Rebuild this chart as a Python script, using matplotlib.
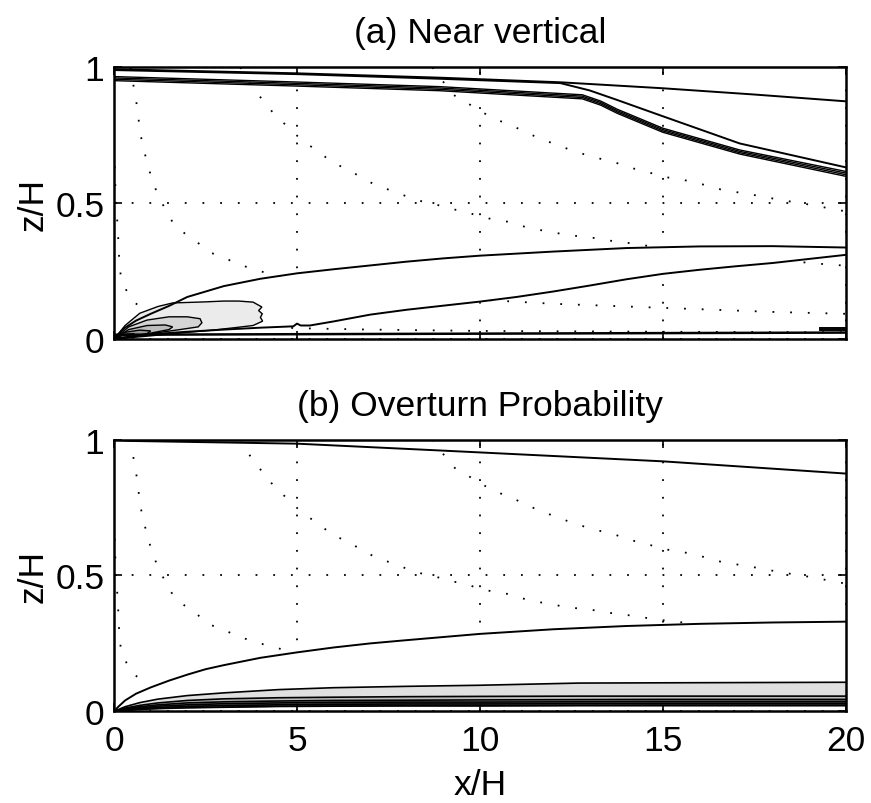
"""
Near-vertical vs overturn probability contours (two stacked panels)
"""
import numpy as np
import matplotlib
matplotlib.use("Agg")
import matplotlib.pyplot as plt

plt.rcParams['font.family'] = ['Liberation Sans', 'DejaVu Sans']

# ---- dotted guide curves (same family in both panels) ----
curve_a_x = [0.45, 0.52, 0.6, 0.66, 0.71, 0.8, 0.9, 1.03, 1.17, 1.37, 1.6, 1.92, 2.24, 2.6, 3.0, 3.4, 3.83, 4.24, 5.0, 6.5, 8.0, 10.0, 12.0, 14.0, 16.0, 18.0, 20.0]
curve_a_z = [1.0, 0.94, 0.88, 0.82, 0.76, 0.705, 0.65, 0.59, 0.54, 0.485, 0.43, 0.39, 0.36, 0.32, 0.30, 0.275, 0.257, 0.24, 0.215, 0.185, 0.165, 0.145, 0.13, 0.12, 0.11, 0.10, 0.093]
curve_b_x = [3.45, 3.74, 4.0, 4.3, 4.6, 4.9, 5.25, 5.6, 5.95, 6.3, 6.7, 7.1, 7.5, 7.9, 8.3, 8.7, 9.15, 9.6, 10.0, 10.4, 10.85, 11.3, 11.7, 12.1, 12.6, 13.0, 13.4, 13.85, 14.3, 14.7, 16.0, 17.5, 18.6, 19.0, 19.5, 20.0]
curve_b_z = [1.0, 0.935, 0.89, 0.84, 0.80, 0.76, 0.72, 0.69, 0.65, 0.63, 0.60, 0.57, 0.55, 0.53, 0.51, 0.50, 0.48, 0.47, 0.45, 0.44, 0.43, 0.41, 0.40, 0.39, 0.38, 0.375, 0.365, 0.357, 0.35, 0.34, 0.32, 0.30, 0.287, 0.28, 0.275, 0.27]
curve_c_x = [8.7, 9.26, 9.64, 10.0, 10.4, 10.8, 11.2, 11.6, 12.0, 12.4, 12.85, 13.25, 13.7, 14.1, 14.5, 14.9, 15.35, 15.8, 16.2, 16.6, 17.05, 17.5, 17.9, 18.3, 18.8, 19.2, 19.6, 20.0]
curve_c_z = [1.0, 0.90, 0.87, 0.84, 0.81, 0.79, 0.765, 0.74, 0.72, 0.70, 0.68, 0.665, 0.65, 0.63, 0.62, 0.60, 0.59, 0.58, 0.565, 0.55, 0.54, 0.53, 0.52, 0.51, 0.50, 0.49, 0.48, 0.47]
curve_d_x = [0.0, 0.05, 0.1, 0.14, 0.18, 0.28, 0.46, 0.8, 1.5, 3.0, 5.0, 7.0, 10.0, 15.0, 20.0]
curve_d_z = [0.70, 0.50, 0.41, 0.29, 0.235, 0.195, 0.145, 0.11, 0.08, 0.055, 0.04, 0.035, 0.03, 0.027, 0.025]

# ---- panel (a): near vertical ----
a_top1_x = [0.0, 5.0, 8.9, 12.2, 15.0, 17.5, 20.0]
a_top1_z = [0.993, 0.978, 0.962, 0.945, 0.923, 0.90, 0.875]
a_top2_x = [0.0, 5.0, 8.9, 12.2, 13.0, 13.75, 15.0, 17.1, 20.0]
a_top2_z = [0.99, 0.975, 0.958, 0.942, 0.915, 0.88, 0.82, 0.72, 0.632]
a_bundle_x = [0.0, 5.0, 8.9, 12.8, 13.3, 13.75, 15.0, 17.1, 20.0]
a_bundle_z = [[0.966, 0.946, 0.929, 0.899, 0.876, 0.846, 0.776, 0.696, 0.617],
              [0.961, 0.941, 0.924, 0.894, 0.871, 0.841, 0.771, 0.691, 0.611],
              [0.956, 0.936, 0.919, 0.889, 0.866, 0.836, 0.766, 0.686, 0.605],
              [0.951, 0.931, 0.914, 0.884, 0.861, 0.831, 0.761, 0.681, 0.599]]
a_l1_x = [0.0, 0.1, 0.3, 0.6, 1.0, 1.5, 2.0, 2.5, 3.0, 4.0, 5.0, 6.0, 7.0, 8.0, 9.0, 10.0, 12.0, 14.0, 16.0, 18.0, 20.0]
a_l1_z = [0.0, 0.016, 0.042, 0.068, 0.093, 0.122, 0.155, 0.175, 0.195, 0.222, 0.242, 0.257, 0.271, 0.285, 0.297, 0.307, 0.322, 0.335, 0.341, 0.342, 0.337]
a_l2_x = [0.0, 1.0, 2.0, 3.0, 4.0, 4.9, 5.0, 5.1, 5.35, 6.0, 7.0, 8.0, 9.0, 10.0, 11.0, 12.0, 13.0, 14.0, 15.0, 16.0, 17.0, 18.0, 19.0, 20.0]
a_l2_z = [0.0, 0.018, 0.027, 0.035, 0.042, 0.047, 0.057, 0.05, 0.05, 0.065, 0.09, 0.108, 0.123, 0.138, 0.155, 0.175, 0.197, 0.22, 0.24, 0.255, 0.268, 0.28, 0.295, 0.31]
a_floor_x = [0.0, 5.0, 10.0, 15.0, 20.0]
a_floor_z = [0.016, 0.018, 0.02, 0.022, 0.024]
a_stub_x = [19.3, 20.0]
a_stub_z = [[0.04, 0.04], [0.032, 0.032]]

# blob near the origin, outer level first
blob_x = [[0.0, 0.3, 0.7, 1.2, 1.6, 2.5, 3.0, 3.4, 3.8, 4.04, 3.95, 4.05, 4.0, 4.06, 3.8, 3.3, 2.7, 2.0, 1.0, 0.0],
          [0.0, 0.4, 0.9, 1.5, 2.0, 2.35, 2.4, 2.3, 1.8, 1.0, 0.0],
          [0.0, 0.4, 0.9, 1.4, 1.6, 1.5, 1.0, 0.0],
          [0.0, 0.3, 0.7, 1.0, 0.9, 0.0],
          [0.0, 0.3, 0.55, 0.5, 0.0]]
blob_z = [[0.0, 0.05, 0.095, 0.12, 0.133, 0.137, 0.14, 0.14, 0.136, 0.118, 0.105, 0.093, 0.08, 0.066, 0.05, 0.042, 0.033, 0.025, 0.012, 0.0],
          [0.0, 0.045, 0.07, 0.082, 0.082, 0.075, 0.06, 0.045, 0.035, 0.02, 0.0],
          [0.0, 0.035, 0.05, 0.052, 0.045, 0.035, 0.022, 0.0],
          [0.0, 0.025, 0.033, 0.03, 0.02, 0.0],
          [0.0, 0.018, 0.02, 0.012, 0.0]]
blob_grey = ['#ebebeb', '#d4d4d4', '#bcbcbc', '#999999', '#707070']

# ---- panel (b): overturn probability ----
b_top_x = [0.0, 0.45, 5.0, 8.9, 15.0, 20.0]
b_top_z = [1.0, 0.995, 0.985, 0.96, 0.92, 0.875]
b_l1_x = [0.0, 0.1, 0.3, 0.6, 1.0, 1.5, 2.0, 2.5, 3.0, 4.0, 5.0, 6.0, 7.0, 8.0, 10.0, 12.0, 14.0, 16.0, 18.0, 20.0]
b_l1_z = [0.0, 0.015, 0.04, 0.065, 0.088, 0.113, 0.135, 0.155, 0.17, 0.197, 0.217, 0.235, 0.25, 0.262, 0.285, 0.302, 0.314, 0.322, 0.327, 0.33]
band_x = [0.0, 0.3, 0.7, 1.2, 2.0, 3.0, 4.5, 6.0, 8.0, 10.0, 12.7, 15.0, 20.0]
band_z = [[0.0, 0.017, 0.032, 0.045, 0.058, 0.068, 0.08, 0.087, 0.092, 0.096, 0.104, 0.105, 0.107],
          [0.0, 0.012, 0.022, 0.031, 0.04, 0.046, 0.05, 0.052, 0.054, 0.055, 0.056, 0.056, 0.056],
          [0.0, 0.009, 0.017, 0.024, 0.031, 0.035, 0.038, 0.04, 0.041, 0.042, 0.043, 0.044, 0.044],
          [0.0, 0.007, 0.013, 0.019, 0.024, 0.028, 0.031, 0.033, 0.034, 0.034, 0.035, 0.036, 0.036],
          [0.0, 0.005, 0.01, 0.014, 0.018, 0.021, 0.024, 0.026, 0.027, 0.027, 0.028, 0.029, 0.029],
          [0.0, 0.004, 0.007, 0.01, 0.013, 0.015, 0.018, 0.019, 0.02, 0.02, 0.021, 0.021, 0.021]]
band_grey = ['#e0e0e0', '#bdbdbd', '#8a8a8a', '#555555', '#2a2a2a']

DOTS = (0, (1, 8.8))
LW = 1.4
FS = 25.5


def style_axes(ax):
    ax.set_xlim(0, 20)
    ax.set_ylim(0, 1)
    ax.set_xticks([0, 5, 10, 15, 20])
    ax.set_yticks([0, 0.5, 1])
    ax.set_yticklabels(['0', '0.5', '1'])
    ax.tick_params(direction='in', length=6, width=1.2, top=True, right=True,
                   labelsize=FS)
    ax.tick_params(axis='x', pad=9)
    ax.tick_params(axis='y', pad=7)
    ax.grid(True, color='k', linestyle=DOTS, linewidth=1.3)
    for s in ax.spines.values():
        s.set_linewidth(1.8)
    ax.set_ylabel('z/H', fontsize=FS, labelpad=4)


def dotted(ax, x, z):
    ax.plot(x, z, color='k', linestyle=DOTS, linewidth=1.3, zorder=1)


fig = plt.figure(figsize=(8.71, 8.04), dpi=100)
ax_a = fig.add_axes([0.131, 0.577, 0.840, 0.338])
ax_b = fig.add_axes([0.131, 0.114, 0.840, 0.338])

# panel (a)
style_axes(ax_a)
ax_a.set_xticklabels([])
dotted(ax_a, curve_a_x, curve_a_z)
dotted(ax_a, curve_b_x, curve_b_z)
dotted(ax_a, curve_c_x, curve_c_z)
dotted(ax_a, curve_d_x, curve_d_z)

# white band between the two lower contours hides the guides
xs = np.linspace(0, 20, 400)
l1 = np.interp(xs, a_l1_x, a_l1_z)
l2 = np.interp(xs, a_l2_x, a_l2_z)
ax_a.fill_between(xs, l2, l1, color='white', zorder=2, linewidth=0)
for bx, bz, g in zip(blob_x, blob_z, blob_grey):
    ax_a.fill(bx, bz, facecolor=g, edgecolor='k', linewidth=1.0, zorder=3)

ax_a.plot(a_top1_x, a_top1_z, color='k', lw=LW, zorder=4)
ax_a.plot(a_top2_x, a_top2_z, color='k', lw=LW, zorder=4)
for bz in a_bundle_z:
    ax_a.plot(a_bundle_x, bz, color='k', lw=1.0, zorder=4)
ax_a.plot(a_l1_x, a_l1_z, color='k', lw=LW, zorder=4)
ax_a.plot(a_l2_x, a_l2_z, color='k', lw=LW, zorder=4)
ax_a.plot(a_floor_x, a_floor_z, color='k', lw=1.8, zorder=4)
for sz in a_stub_z:
    ax_a.plot(a_stub_x, sz, color='k', lw=LW, zorder=4)
ax_a.set_title('(a) Near vertical', fontsize=FS, pad=18)

# panel (b)
style_axes(ax_b)
dotted(ax_b, curve_a_x[:19], curve_a_z[:19])
dotted(ax_b, curve_b_x[:31], curve_b_z[:31])
dotted(ax_b, curve_c_x, curve_c_z)
dotted(ax_b, curve_d_x[:8], curve_d_z[:8])

lb1 = np.interp(xs, b_l1_x, b_l1_z)
top_band = np.interp(xs, band_x, band_z[0])
ax_b.fill_between(xs, top_band, lb1, color='white', zorder=2, linewidth=0)
for k, g in enumerate(band_grey):
    upper = np.interp(xs, band_x, band_z[k])
    lower = np.interp(xs, band_x, band_z[k + 1])
    ax_b.fill_between(xs, lower, upper, color=g, zorder=2, linewidth=0)
for bz in band_z:
    ax_b.plot(band_x, bz, color='k', lw=1.2, zorder=4)
ax_b.plot(b_top_x, b_top_z, color='k', lw=LW, zorder=4)
ax_b.plot(b_l1_x, b_l1_z, color='k', lw=LW, zorder=4)
ax_b.set_title('(b) Overturn Probability', fontsize=FS, pad=18)
ax_b.set_xlabel('x/H', fontsize=FS, labelpad=8)

fig.savefig('out.png', dpi=100)
